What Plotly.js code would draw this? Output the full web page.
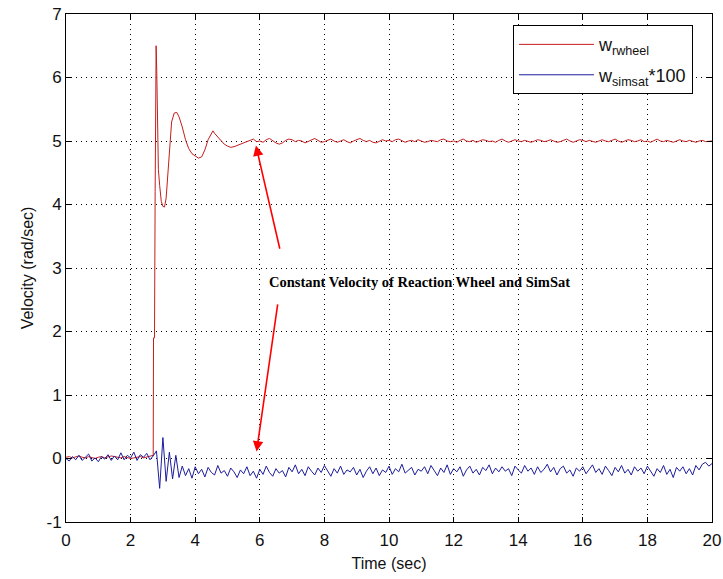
<!DOCTYPE html>
<html>
<head>
<meta charset="utf-8">
<script src="https://cdn.plot.ly/plotly-3.0.1.min.js"></script>
<style>html,body{margin:0;padding:0;background:#fff;}#chart{width:723px;height:579px;}</style>
</head>
<body>
<div id="chart"></div>
<script>
// ---- data ----
const sampleStep = 0.1;
// red (w_rwheel) before the step, t = 0 .. 2.6
const redPre = [0.02,0.03,0.01,0.02,0.04,0.02,0.01,0.03,0.02,0.00,0.02,0.03,0.01,0.02,0.04,0.03,0.02,0.01,0.03,0.02,0.00,0.01,0.02,0.03,0.01,0.02,0.03];
// transient section
const redTransT = [2.7,2.71,2.74,2.76,2.79,2.81,2.83,2.86,2.9,2.95,3.0,3.05,3.1,3.15,3.2,3.27,3.35,3.43,3.5,3.6,3.7,3.8,3.9,4.0,4.1,4.2,4.3,4.4,4.5,4.55,4.6,4.7,4.8,4.9,5.0,5.1,5.2,5.3,5.4,5.5];
const redTransV = [0.05,1.9,1.9,4.2,6.5,6.1,5.28,4.55,4.3,4.05,3.97,3.96,4.1,4.45,4.9,5.3,5.44,5.45,5.38,5.22,5.02,4.88,4.8,4.76,4.73,4.75,4.86,5.02,5.12,5.16,5.12,5.06,5.0,4.95,4.92,4.9,4.91,4.93,4.96,4.98];
// steady section, t = 5.6 .. 20
const redSteady = [4.99,5.01,5.03,4.99,
5.00,4.98,5.02,5.04,5.00,4.97,4.95,4.97,5.01,5.03,
5.02,4.99,5.01,5.00,4.97,4.99,5.02,5.04,5.01,4.98,
4.99,5.01,5.03,5.00,4.98,5.00,5.02,4.99,4.97,5.00,
5.02,5.04,5.01,4.99,5.01,4.98,4.97,5.00,5.02,5.00,
5.01,4.99,5.02,5.03,5.00,4.98,5.00,5.01,4.99,5.02,
5.00,4.98,4.99,5.01,5.00,4.99,5.02,5.03,5.00,4.99,
5.00,4.98,5.01,5.03,5.00,4.99,5.01,4.98,5.00,5.02,
5.01,4.99,5.00,4.98,5.01,5.03,5.00,4.98,5.00,5.02,
5.00,4.99,5.01,5.00,4.98,5.00,5.02,5.01,4.99,5.00,
5.02,5.00,4.98,4.99,5.01,5.03,5.00,4.98,5.00,5.02,
5.01,4.99,5.01,5.00,4.98,5.00,5.02,5.00,4.99,5.01,
5.03,5.00,4.98,5.00,5.02,5.01,4.99,5.00,5.02,4.99,
5.00,4.98,5.01,5.03,5.00,4.99,5.01,5.00,4.98,5.00,
5.02,5.00,4.99,5.01,5.00,4.98,5.00,5.01,4.99,5.00,
5.00];
const redSteadyStart = 5.6;
// blue (w_simsat*100), t = 0 .. 20
const blueVals = [
0.00,-0.04,0.03,-0.02,0.05,-0.03,0.02,0.07,-0.04,0.01,
-0.05,0.03,-0.01,0.06,-0.03,0.04,-0.02,0.09,-0.02,0.05,
0.01,0.10,-0.03,0.06,0.02,0.08,-0.02,0.04,0.12,-0.47,
0.33,-0.36,0.10,-0.32,0.05,-0.30,-0.12,-0.27,-0.16,-0.31,
-0.13,-0.24,-0.17,-0.29,-0.14,-0.22,-0.26,-0.11,-0.23,-0.19,
-0.28,-0.15,-0.21,-0.30,-0.18,-0.24,-0.13,-0.27,-0.20,-0.31,
-0.17,-0.25,-0.12,-0.22,-0.28,-0.16,-0.23,-0.19,-0.29,-0.14,
-0.21,-0.10,-0.24,-0.17,-0.27,-0.13,-0.20,-0.26,-0.15,-0.22,
-0.11,-0.19,-0.28,-0.16,-0.23,-0.12,-0.25,-0.18,-0.21,-0.14,
-0.26,-0.17,-0.30,-0.20,-0.13,-0.24,-0.15,-0.27,-0.18,-0.22,
-0.12,-0.25,-0.16,-0.21,-0.09,-0.23,-0.18,-0.14,-0.26,-0.17,
-0.20,-0.13,-0.24,-0.11,-0.19,-0.27,-0.15,-0.22,-0.10,-0.25,
-0.16,-0.21,-0.13,-0.28,-0.18,-0.12,-0.23,-0.17,-0.26,-0.14,
-0.19,-0.10,-0.24,-0.15,-0.21,-0.13,-0.20,-0.16,-0.27,-0.12,
-0.18,-0.23,-0.11,-0.20,-0.15,-0.25,-0.13,-0.22,-0.17,-0.09,
-0.21,-0.14,-0.26,-0.16,-0.12,-0.23,-0.18,-0.28,-0.15,-0.20,
-0.13,-0.24,-0.17,-0.10,-0.22,-0.16,-0.25,-0.12,-0.19,-0.27,
-0.14,-0.21,-0.11,-0.23,-0.17,-0.26,-0.13,-0.20,-0.15,-0.24,
-0.12,-0.19,-0.28,-0.16,-0.22,-0.11,-0.25,-0.17,-0.30,-0.14,
-0.20,-0.13,-0.24,-0.16,-0.26,-0.11,-0.18,-0.09,-0.06,-0.12,
-0.08];
const xTicks = [0,2,4,6,8,10,12,14,16,18,20];
const yTicks = [-1,0,1,2,3,4,5,6,7];
const annoText = 'Constant Velocity of Reaction Wheel and SimSat';
const arrowTips = [[5.88,4.93],[5.9,0.11]];
const arrowTails = [[6.63,3.28],[6.56,2.45]];

// ---- build ----
const round = v => Math.round(v*1000)/1000;
const redT = [], redV = [];
redPre.forEach((v,i)=>{redT.push(round(i*sampleStep)); redV.push(v);});
redTransT.forEach((t,i)=>{redT.push(t); redV.push(redTransV[i]);});
redSteady.forEach((v,i)=>{redT.push(round(redSteadyStart+i*sampleStep)); redV.push(v);});
const blueT = blueVals.map((v,i)=>round(i*sampleStep));

const fontMain = 'Liberation Sans, Arial, sans-serif';
const traces = [
  {x: redT, y: redV, type:'scatter', mode:'lines', name:'w<sub>rwheel</sub>', legendgroup:'a', line:{color:'#c41e1e', width:1}},
  {x: blueT, y: blueVals, type:'scatter', mode:'lines', name:'w<sub>simsat</sub>*100', legendgroup:'b', line:{color:'#1c1c9c', width:1}}
];
const axisCommon = {
  showline:true, linecolor:'#000', linewidth:1, mirror:'ticks',
  ticks:'inside', ticklen:5, tickcolor:'#000', tickwidth:1,
  showgrid:true, gridcolor:'#000', gridwidth:1, griddash:'1px,4px',
  zeroline:false, tickfont:{family:fontMain, size:17, color:'#111'}
};
const annotations = [
  {x:10.95, y:2.78, xref:'x', yref:'y', text:'<b>'+annoText+'</b>', showarrow:false,
   font:{family:'Liberation Serif, Times New Roman, serif', size:14.5, color:'#000'}}
];
arrowTips.forEach((tip,i)=>{
  annotations.push({x:tip[0], y:tip[1], xref:'x', yref:'y', ax:arrowTails[i][0], ay:arrowTails[i][1],
    axref:'x', ayref:'y', text:'', showarrow:true, arrowhead:2, arrowsize:1.3, arrowwidth:1.6, arrowcolor:'#ff0000'});
});
const layout = {
  width:723, height:579,
  margin:{l:66, r:11, t:14, b:57},
  paper_bgcolor:'#fff', plot_bgcolor:'#fff',
  showlegend:true,
  legend:{x:0.692, y:0.978, xanchor:'left', yanchor:'top', bgcolor:'#fff', bordercolor:'#000', borderwidth:1,
    font:{family:fontMain, size:18, color:'#111'}, itemwidth:75, tracegroupgap:4},
  xaxis: Object.assign({}, axisCommon, {range:[0,20], tickvals:xTicks, ticktext:xTicks.map(String), ticklabelstandoff:3,
    title:{text:'Time (sec)', font:{family:fontMain, size:16, color:'#111'}, standoff:8}}),
  yaxis: Object.assign({}, axisCommon, {range:[-1,7], tickvals:yTicks, ticktext:yTicks.map(String),
    title:{text:'Velocity (rad/sec)', font:{family:fontMain, size:16, color:'#111'}, standoff:8}}),
  annotations: annotations
};
Plotly.newPlot('chart', traces, layout, {displayModeBar:false, staticPlot:true});
</script>
</body>
</html>
